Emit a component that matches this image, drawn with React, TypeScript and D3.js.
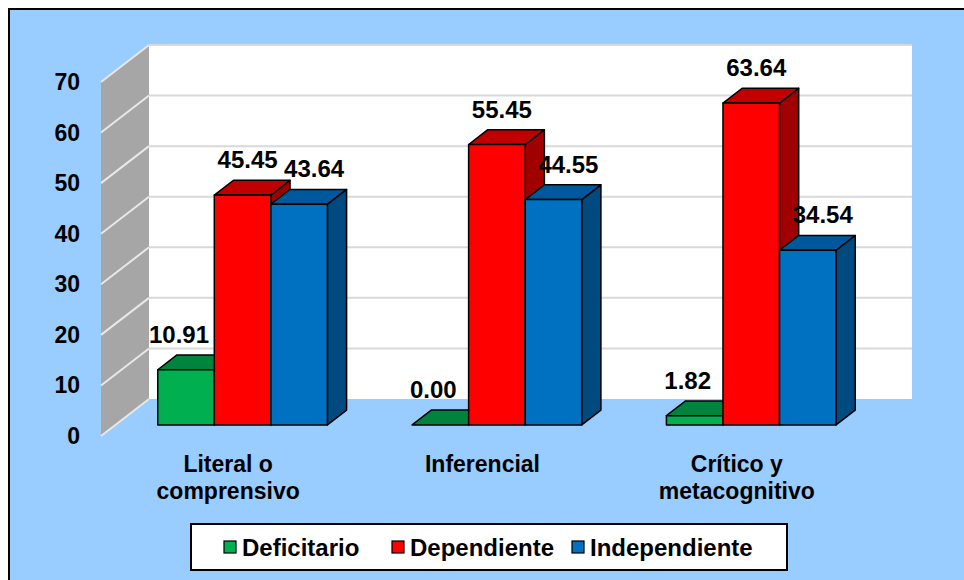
import React from 'react';
import * as d3 from 'd3';

// chart data
const categories = ['Literal o comprensivo', 'Inferencial', 'Crítico y metacognitivo'];
const categoryLines = [['Literal o', 'comprensivo'], ['Inferencial'], ['Crítico y', 'metacognitivo']];
const seriesNames = ['Deficitario', 'Dependiente', 'Independiente'];
const deficitario = [10.91, 0.0, 1.82];
const dependiente = [45.45, 55.45, 63.64];
const independiente = [43.64, 44.55, 34.54];
const yTicks = [0, 10, 20, 30, 40, 50, 60, 70];

// colours per series: front, top, side
const fronts = ['#00B050', '#FF0000', '#0070C0'];
const tops = ['#00843D', '#C00000', '#00589C'];
const sides = ['#006B30', '#A00000', '#004A80'];

const svgWidth = 964;
const svgHeight = 580;
const font = '"Liberation Sans", Arial, sans-serif';

// 3d frame
const frontLeft = 101;
const frontRight = 864;
const frontBottom = 436;
const frontTop = 82;
const depthX = 48; // full depth offset
const depthY = -37;
const barDepth0 = 0.3; // bars sit between these depth fractions
const barDepth1 = 0.7;

const yFront = d3.scaleLinear().domain([0, 70]).range([frontBottom, frontTop]);
// y at some depth fraction
const yAt = (v: number, d: number) => yFront(v) + d * depthY;

const labelShift = [-7, 5, 15]; // label offset from bar centre by series

export default function App() {
  const series = [deficitario, dependiente, independiente];

  const xCat = d3.scaleBand<string>()
    .domain(categories)
    .range([frontLeft + barDepth0 * depthX, frontRight + barDepth0 * depthX])
    .paddingInner(0.333)
    .paddingOuter(0.1665);
  const xSeries = d3.scaleBand<string>()
    .domain(seriesNames)
    .range([0, xCat.bandwidth()]);

  const xLabel = d3.scaleBand<string>().domain(categories).range([frontLeft, frontRight]);

  const bdx = (barDepth1 - barDepth0) * depthX;
  const bdy = (barDepth1 - barDepth0) * depthY;

  const pts = (p: number[][]) => p.map(q => q.join(',')).join(' ');

  const bars: React.ReactNode[] = [];
  const labels: React.ReactNode[] = [];
  categories.forEach((cat, ci) => {
    seriesNames.forEach((s, si) => {
      const v = series[si][ci];
      const x0 = (xCat(cat) as number) + (xSeries(s) as number);
      const w = xSeries.bandwidth();
      const yb = yAt(0, barDepth0);
      const yt = yAt(v, barDepth0);
      bars.push(
        <g key={cat + s} stroke="#000" strokeWidth={1.5} strokeLinejoin="round">
          <polygon points={pts([[x0 + w, yb], [x0 + w + bdx, yb + bdy], [x0 + w + bdx, yt + bdy], [x0 + w, yt]])} fill={sides[si]} />
          <polygon points={pts([[x0, yt], [x0 + bdx, yt + bdy], [x0 + w + bdx, yt + bdy], [x0 + w, yt]])} fill={tops[si]} />
          {yb - yt > 0.5 && <rect x={x0} y={yt} width={w} height={yb - yt} fill={fronts[si]} />}
        </g>
      );
      labels.push(
        <text key={'l' + cat + s} x={x0 + w / 2 + labelShift[si]} y={yt + bdy - 12}
          textAnchor="middle" fontSize={24} fontWeight="bold" fontFamily={font}>
          {v.toFixed(2)}
        </text>
      );
    });
  });

  const backLeft = frontLeft + depthX;
  const backRight = frontRight + depthX;

  return (
    <svg width={svgWidth} height={svgHeight} style={{ position: 'absolute', left: 0, top: 0 }}>
      <rect x={0} y={0} width={svgWidth} height={svgHeight} fill="#fff" />
      <rect x={9} y={9} width={1000} height={1000} fill="#99CCFF" stroke="#000" strokeWidth={2} />

      {/* back wall */}
      <rect x={backLeft} y={yAt(70, 1)} width={backRight - backLeft} height={yAt(0, 1) - yAt(70, 1)} fill="#fff" />
      {yTicks.filter(t => t > 0).map(t => (
        <line key={'g' + t} x1={backLeft} x2={backRight} y1={yAt(t, 1)} y2={yAt(t, 1)} stroke="#D9D9D9" strokeWidth={2} />
      ))}
      {/* side wall */}
      <polygon points={pts([[frontLeft, yAt(0, 0)], [backLeft, yAt(0, 1)], [backLeft, yAt(70, 1)], [frontLeft, yAt(70, 0)]])} fill="#A6A6A6" />
      {yTicks.map(t => (
        <line key={'s' + t} x1={frontLeft} x2={backLeft} y1={yAt(t, 0)} y2={yAt(t, 1)} stroke="#E8E8E8" strokeWidth={2} />
      ))}

      {bars}
      {labels}

      {/* y tick labels */}
      {yTicks.map(t => (
        <text key={'t' + t} x={80} y={yFront(t) + 8} textAnchor="end" fontSize={23} fontWeight="bold" fontFamily={font}>{t}</text>
      ))}

      {/* category labels */}
      {categories.map((c, i) => (
        <text key={'c' + c} x={(xLabel(c) as number) + xLabel.bandwidth() / 2} y={472} textAnchor="middle"
          fontSize={23} fontWeight="bold" fontFamily={font}>
          {categoryLines[i].map((ln, k) => (
            <tspan key={k} x={(xLabel(c) as number) + xLabel.bandwidth() / 2} dy={k === 0 ? 0 : 27}>{ln}</tspan>
          ))}
        </text>
      ))}

      {/* legend */}
      <rect x={191} y={524} width={596} height={46} fill="#fff" stroke="#000" strokeWidth={2} />
      {seriesNames.map((s, i) => {
        const lx = [224, 392, 572][i];
        return (
          <g key={'lg' + s}>
            <rect x={lx} y={541} width={12} height={12} fill={fronts[i]} stroke="#000" strokeWidth={1.2} />
            <text x={lx + 18} y={556} fontSize={24} fontWeight="bold" fontFamily={font}>{s}</text>
          </g>
        );
      })}
    </svg>
  );
}
